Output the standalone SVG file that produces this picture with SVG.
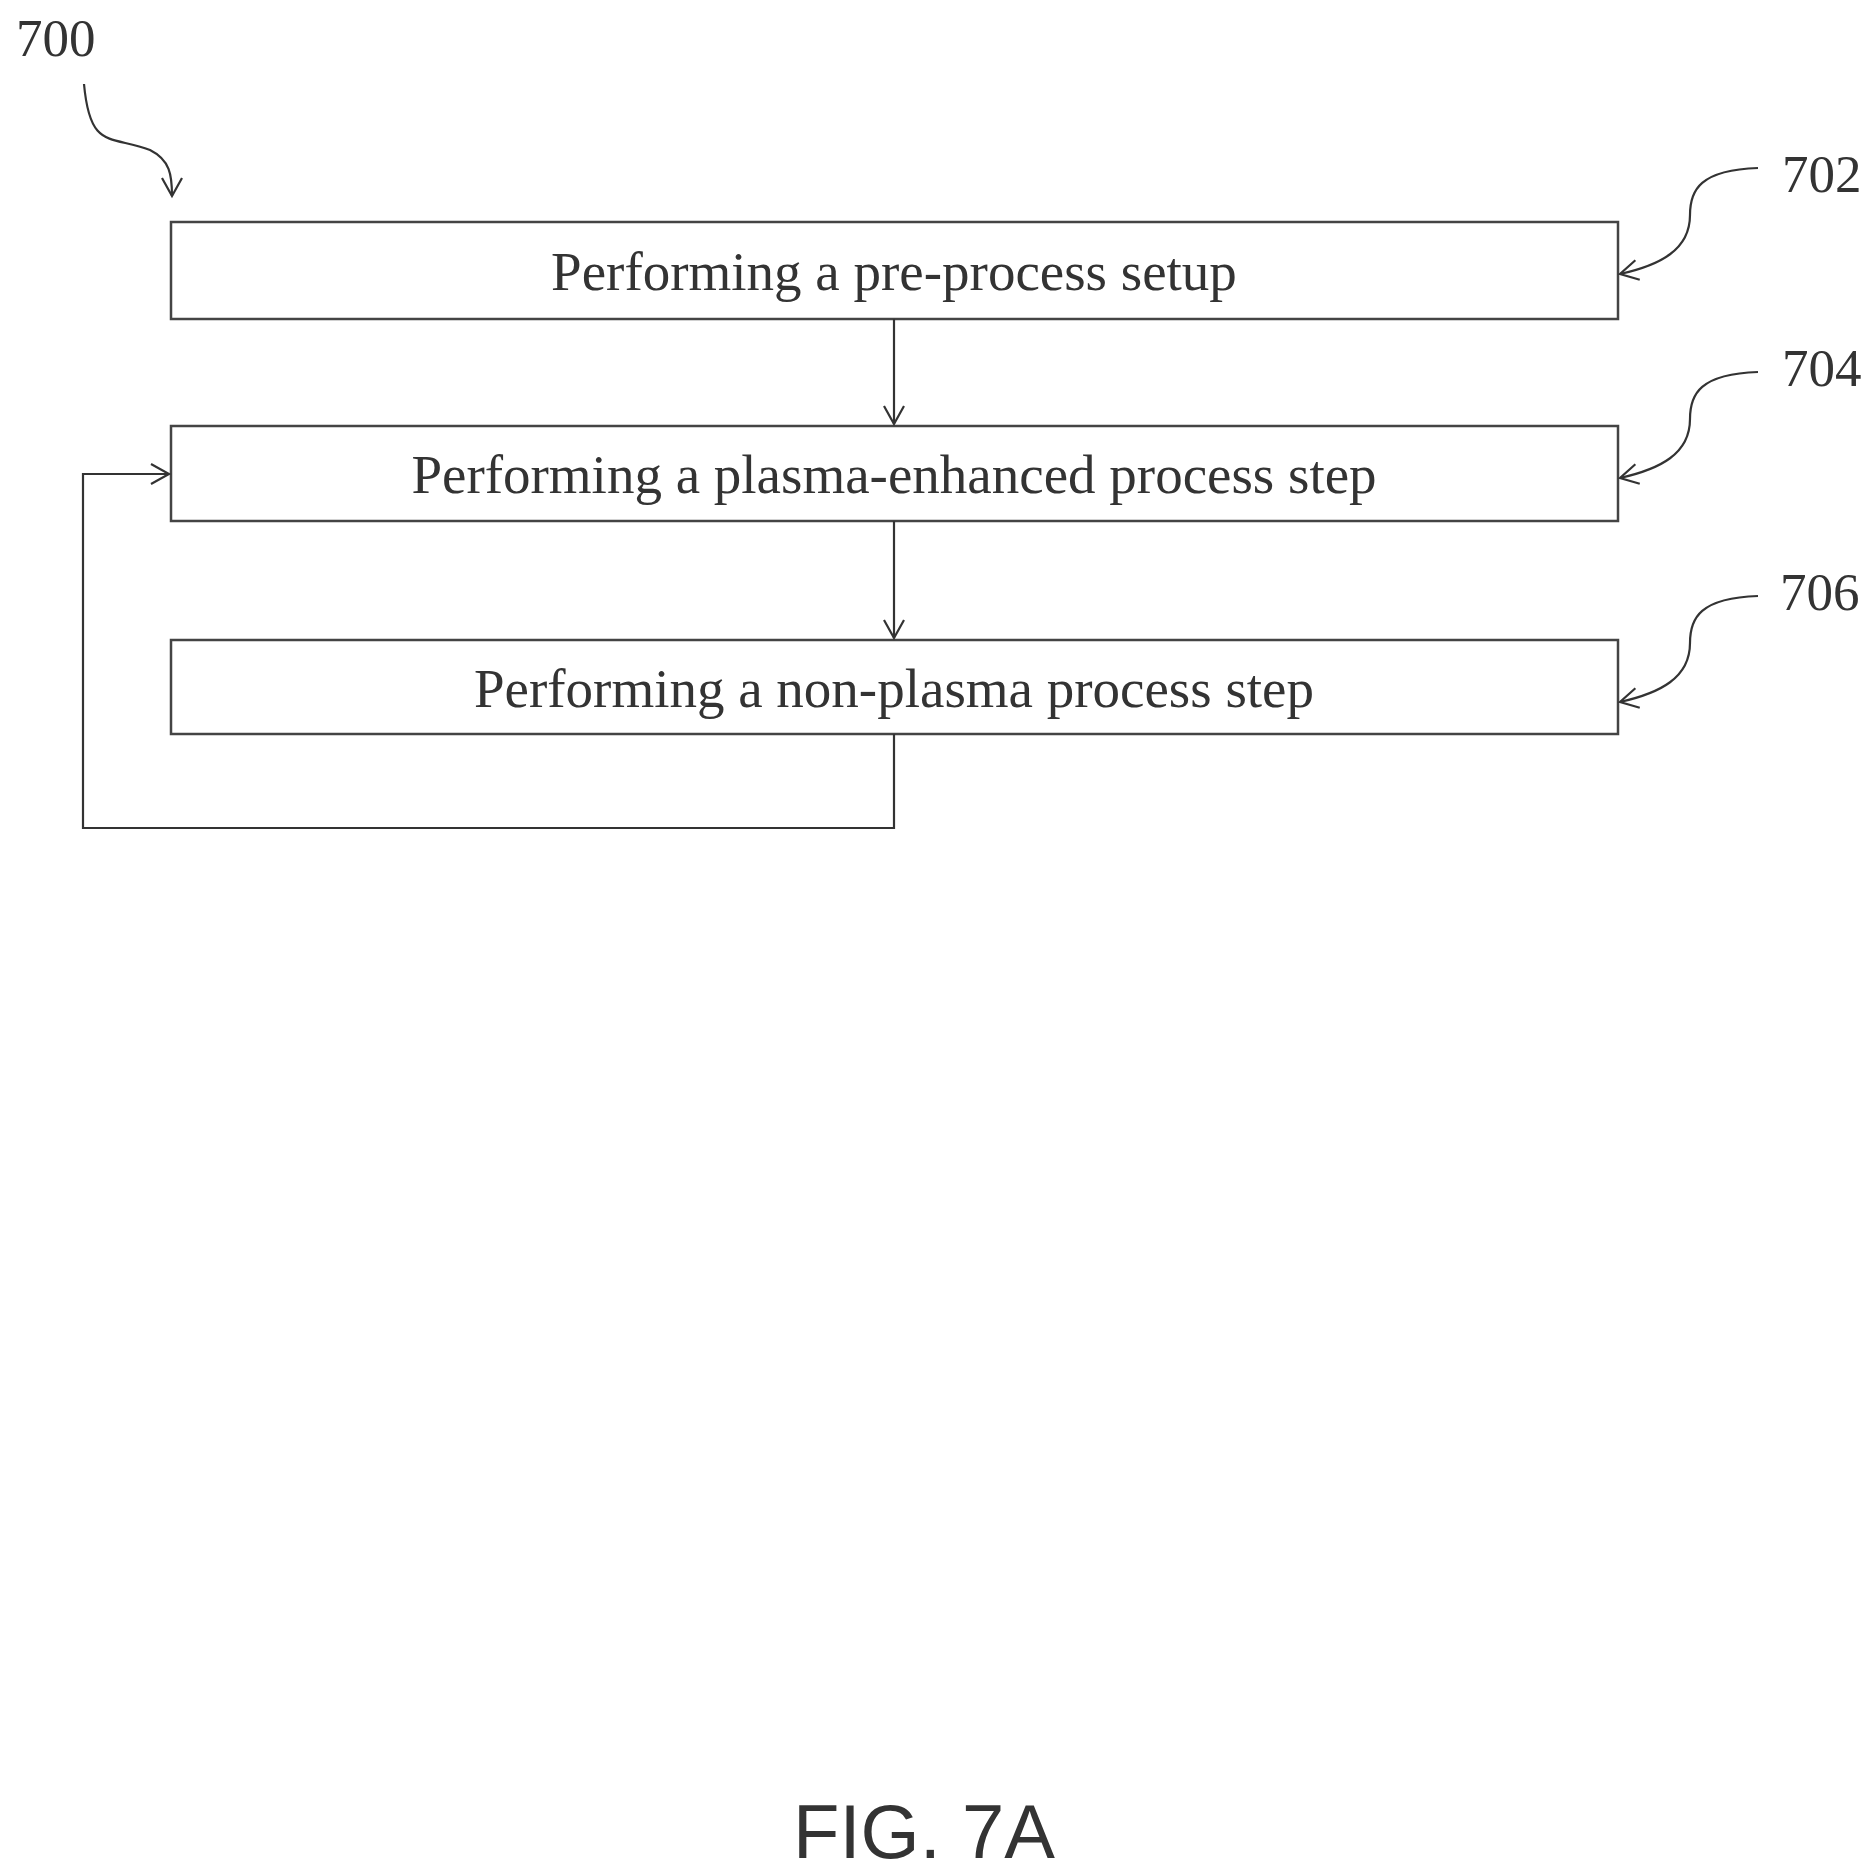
<svg xmlns="http://www.w3.org/2000/svg" width="1875" height="1871" viewBox="0 0 1875 1871">
<defs>
<marker id="ah" markerWidth="24" markerHeight="24" refX="20" refY="12" orient="auto" markerUnits="userSpaceOnUse">
<path d="M2,2 L20,12 L2,22" fill="none" stroke="#333" stroke-width="2.2"/>
</marker>
<style>
.box{fill:#fff;stroke:#444;stroke-width:2.5}
.t{font-family:"Liberation Serif",serif;font-size:55px;fill:#333;text-anchor:middle}
.n{font-family:"Liberation Serif",serif;font-size:53px;fill:#333}
.c{fill:none;stroke:#333;stroke-width:2.2}
</style>
</defs>
<rect width="1875" height="1871" fill="#fff"/>
<g id="n702"><rect class="box" x="171" y="222" width="1447" height="97"/><text class="t" x="894" y="290">Performing a pre-process setup</text></g>
<g id="n704"><rect class="box" x="171" y="426" width="1447" height="95"/><text class="t" x="894" y="493">Performing a plasma-enhanced process step</text></g>
<g id="n706"><rect class="box" x="171" y="640" width="1447" height="94"/><text class="t" x="894" y="707">Performing a non-plasma process step</text></g>
<g id="connectors">
<path class="c" d="M894,319 V424" marker-end="url(#ah)"/>
<path class="c" d="M894,521 V638" marker-end="url(#ah)"/>
<path class="c" d="M894,734 V828 H83 V474 H169" marker-end="url(#ah)"/>
<path class="c" d="M84,84 C90,150 110,135 150,150 C170,160 172,175 172,196" marker-end="url(#ah)"/>
<path class="c" d="M1758,168 C1700,170 1690,190 1690,215 C1690,250 1660,265 1620,274" marker-end="url(#ah)"/>
<path class="c" d="M1758,372 C1700,374 1690,394 1690,419 C1690,454 1660,469 1620,478" marker-end="url(#ah)"/>
<path class="c" d="M1758,596 C1700,598 1690,618 1690,643 C1690,678 1660,693 1620,702" marker-end="url(#ah)"/>
</g>
<text class="n" x="16" y="56">700</text>
<text class="n" x="1782" y="192">702</text>
<text class="n" x="1782" y="386">704</text>
<text class="n" x="1780" y="610">706</text>
<text x="924" y="1858" font-family="Liberation Sans,sans-serif" font-size="76" fill="#333" text-anchor="middle">FIG. 7A</text>
</svg>
